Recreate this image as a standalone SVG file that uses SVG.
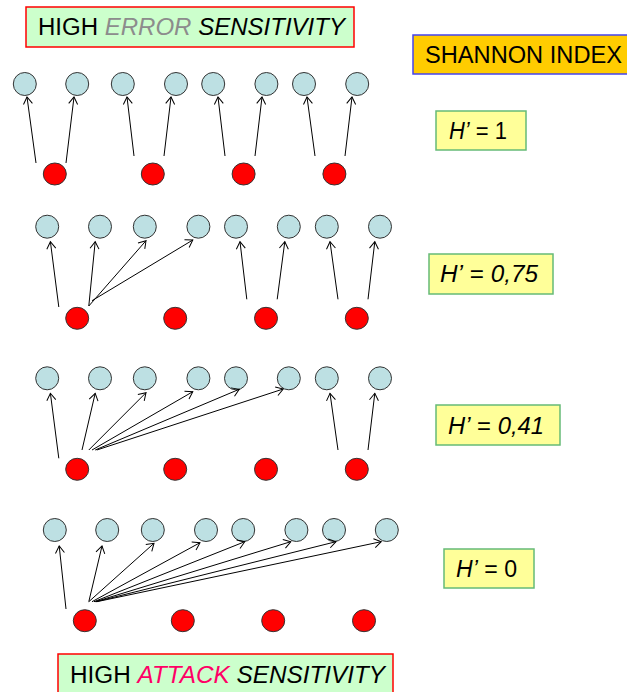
<svg xmlns="http://www.w3.org/2000/svg" width="627" height="692" viewBox="0 0 627 692">
<style>
.b{fill:#BDE0E3;stroke:#333;stroke-width:1}
.r{fill:#FF0000;stroke:#333;stroke-width:1}
.t{font-family:"Liberation Sans",Arial,sans-serif;font-size:23px;fill:#000}
.i{font-style:italic}
.hbox{fill:#FFFF99;stroke:#66BB77;stroke-width:1.5}
.gbox{fill:#CCFFCC;stroke:#FF0000;stroke-width:1.5}
#connectors line{stroke:#000;stroke-width:1;marker-end:url(#ah)}
</style>
<defs>
<marker id="ah" markerUnits="userSpaceOnUse" markerWidth="14" markerHeight="14" refX="10" refY="7" orient="auto">
<path d="M3,2.5 L10,7 L3,11.5" fill="none" stroke="#000" stroke-width="1"/>
</marker>
</defs>
<g id="title-top"><rect class="gbox" x="26" y="7" width="328" height="40"/>
<text class="t" x="38" y="35" textLength="307" lengthAdjust="spacingAndGlyphs">HIGH <tspan class="i" fill="#8C8C8C">ERROR</tspan> <tspan class="i">SENSITIVITY</tspan></text></g>
<g id="shannon"><rect x="413" y="35" width="220" height="39" fill="#FFCC00" stroke="#4444EE" stroke-width="1.5"/>
<text class="t" x="425" y="63" textLength="197" lengthAdjust="spacingAndGlyphs">SHANNON INDEX</text></g>
<g id="h1"><rect class="hbox" x="436" y="111" width="90" height="39"/>
<text class="t" x="449" y="139" textLength="58" lengthAdjust="spacingAndGlyphs"><tspan class="i">H’</tspan> = 1</text></g>
<g id="h075"><rect class="hbox" x="429" y="254" width="124" height="40"/>
<text class="t" x="440" y="282" textLength="98" lengthAdjust="spacingAndGlyphs"><tspan class="i">H’</tspan> = <tspan class="i">0,75</tspan></text></g>
<g id="h041"><rect class="hbox" x="436" y="405" width="124" height="40"/>
<text class="t" x="448" y="434" textLength="96" lengthAdjust="spacingAndGlyphs"><tspan class="i">H’</tspan> = <tspan class="i">0,41</tspan></text></g>
<g id="h0"><rect class="hbox" x="444" y="549" width="90" height="39"/>
<text class="t" x="456" y="577" textLength="61" lengthAdjust="spacingAndGlyphs"><tspan class="i">H’</tspan> = 0</text></g>
<g id="title-bottom"><rect class="gbox" x="58" y="654" width="335" height="45"/>
<text class="t" x="70" y="683" textLength="315" lengthAdjust="spacingAndGlyphs">HIGH <tspan class="i" fill="#FF0066">ATTACK</tspan> <tspan class="i">SENSITIVITY</tspan></text></g>
<g id="row1">
<g id="r1b1"><circle class="b" cx="24.8" cy="84" r="11.5"/></g>
<g id="r1b2"><circle class="b" cx="77.2" cy="84" r="11.5"/></g>
<g id="r1b3"><circle class="b" cx="122.8" cy="84" r="11.5"/></g>
<g id="r1b4"><circle class="b" cx="176" cy="84" r="11.5"/></g>
<g id="r1b5"><circle class="b" cx="213.2" cy="84" r="11.5"/></g>
<g id="r1b6"><circle class="b" cx="266.4" cy="84" r="11.5"/></g>
<g id="r1b7"><circle class="b" cx="304" cy="84" r="11.5"/></g>
<g id="r1b8"><circle class="b" cx="357.2" cy="84" r="11.5"/></g>
<g id="r1r1"><ellipse class="r" cx="54.8" cy="174" rx="11.5" ry="11"/></g>
<g id="r1r2"><ellipse class="r" cx="152.8" cy="174" rx="11.5" ry="11"/></g>
<g id="r1r3"><ellipse class="r" cx="243.6" cy="174" rx="11.5" ry="11"/></g>
<g id="r1r4"><ellipse class="r" cx="334.4" cy="174" rx="11.5" ry="11"/></g>
</g>
<g id="row2">
<g id="r2b1"><circle class="b" cx="47.2" cy="226.7" r="11.5"/></g>
<g id="r2b2"><circle class="b" cx="100" cy="226.7" r="11.5"/></g>
<g id="r2b3"><circle class="b" cx="144.8" cy="226.7" r="11.5"/></g>
<g id="r2b4"><circle class="b" cx="198.4" cy="226.7" r="11.5"/></g>
<g id="r2b5"><circle class="b" cx="236" cy="226.7" r="11.5"/></g>
<g id="r2b6"><circle class="b" cx="288.8" cy="226.7" r="11.5"/></g>
<g id="r2b7"><circle class="b" cx="326.8" cy="226.7" r="11.5"/></g>
<g id="r2b8"><circle class="b" cx="380" cy="226.7" r="11.5"/></g>
<g id="r2r1"><ellipse class="r" cx="77.2" cy="318.3" rx="11.5" ry="11"/></g>
<g id="r2r2"><ellipse class="r" cx="175.2" cy="318.3" rx="11.5" ry="11"/></g>
<g id="r2r3"><ellipse class="r" cx="266" cy="318.3" rx="11.5" ry="11"/></g>
<g id="r2r4"><ellipse class="r" cx="356.8" cy="318.3" rx="11.5" ry="11"/></g>
</g>
<g id="row3">
<g id="r3b1"><circle class="b" cx="47.2" cy="378.3" r="11.5"/></g>
<g id="r3b2"><circle class="b" cx="100" cy="378.3" r="11.5"/></g>
<g id="r3b3"><circle class="b" cx="144.8" cy="378.3" r="11.5"/></g>
<g id="r3b4"><circle class="b" cx="198.4" cy="378.3" r="11.5"/></g>
<g id="r3b5"><circle class="b" cx="236" cy="378.3" r="11.5"/></g>
<g id="r3b6"><circle class="b" cx="288.8" cy="378.3" r="11.5"/></g>
<g id="r3b7"><circle class="b" cx="326.8" cy="378.3" r="11.5"/></g>
<g id="r3b8"><circle class="b" cx="380" cy="378.3" r="11.5"/></g>
<g id="r3r1"><ellipse class="r" cx="77.2" cy="469.3" rx="11.5" ry="11"/></g>
<g id="r3r2"><ellipse class="r" cx="175.2" cy="469.3" rx="11.5" ry="11"/></g>
<g id="r3r3"><ellipse class="r" cx="266" cy="469.3" rx="11.5" ry="11"/></g>
<g id="r3r4"><ellipse class="r" cx="356.8" cy="469.3" rx="11.5" ry="11"/></g>
</g>
<g id="row4">
<g id="r4b1"><circle class="b" cx="54.8" cy="530" r="11.5"/></g>
<g id="r4b2"><circle class="b" cx="107.2" cy="530" r="11.5"/></g>
<g id="r4b3"><circle class="b" cx="152.8" cy="530" r="11.5"/></g>
<g id="r4b4"><circle class="b" cx="206" cy="530" r="11.5"/></g>
<g id="r4b5"><circle class="b" cx="243.2" cy="530" r="11.5"/></g>
<g id="r4b6"><circle class="b" cx="296.4" cy="530" r="11.5"/></g>
<g id="r4b7"><circle class="b" cx="334" cy="530" r="11.5"/></g>
<g id="r4b8"><circle class="b" cx="386.8" cy="530" r="11.5"/></g>
<g id="r4r1"><ellipse class="r" cx="84.8" cy="620.7" rx="11.5" ry="11"/></g>
<g id="r4r2"><ellipse class="r" cx="182.8" cy="620.7" rx="11.5" ry="11"/></g>
<g id="r4r3"><ellipse class="r" cx="273.2" cy="620.7" rx="11.5" ry="11"/></g>
<g id="r4r4"><ellipse class="r" cx="364" cy="620.7" rx="11.5" ry="11"/></g>
</g>
<g id="connectors">
<line x1="36" y1="163" x2="27" y2="97"/>
<line x1="66" y1="163" x2="74" y2="97"/>
<line x1="134" y1="156" x2="127" y2="97"/>
<line x1="164" y1="156" x2="171" y2="97"/>
<line x1="225" y1="156" x2="218" y2="97"/>
<line x1="255" y1="156" x2="262" y2="97"/>
<line x1="315" y1="156" x2="307" y2="97"/>
<line x1="345" y1="156" x2="352" y2="97"/>

<line x1="58.8" y1="307" x2="50.4" y2="241.7"/>
<line x1="88.8" y1="306" x2="95.2" y2="241.7"/>
<line x1="88.8" y1="306" x2="146" y2="240.7"/>
<line x1="92" y1="300.7" x2="192.8" y2="240"/>
<line x1="246.8" y1="299.3" x2="240" y2="241.7"/>
<line x1="277.2" y1="299.3" x2="284.8" y2="241.7"/>
<line x1="338" y1="299.3" x2="330" y2="241.7"/>
<line x1="368" y1="299.3" x2="374.8" y2="241.7"/>

<line x1="58.8" y1="458.3" x2="50.4" y2="393.3"/>
<line x1="82" y1="450" x2="95.2" y2="393.3"/>
<line x1="88.8" y1="450" x2="146" y2="392.7"/>
<line x1="92" y1="450" x2="192.8" y2="391.7"/>
<line x1="95.2" y1="450" x2="239.2" y2="389.3"/>
<line x1="96.8" y1="450" x2="283.2" y2="389"/>
<line x1="338" y1="450" x2="330" y2="393.3"/>
<line x1="368" y1="450" x2="374.8" y2="393.3"/>

<line x1="66" y1="609" x2="59.2" y2="546"/>
<line x1="88.8" y1="601.7" x2="102" y2="546"/>
<line x1="88.8" y1="601.7" x2="154" y2="543.3"/>
<line x1="92" y1="601.7" x2="200" y2="542.7"/>
<line x1="94" y1="601.7" x2="244.8" y2="541.7"/>
<line x1="95.2" y1="601.7" x2="290.8" y2="541.7"/>
<line x1="96" y1="601.7" x2="336" y2="541.7"/>
<line x1="96.8" y1="601.7" x2="381.2" y2="541.7"/>
</g>
</svg>
